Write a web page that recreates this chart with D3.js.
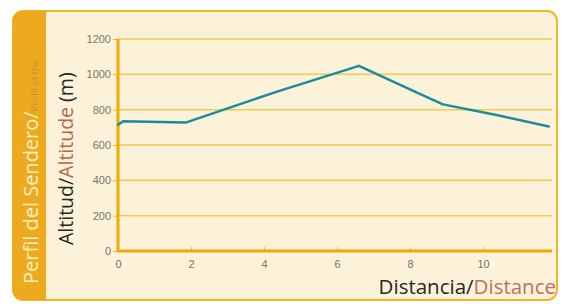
<!DOCTYPE html>
<html>
<head>
<meta charset="utf-8">
<script src="https://cdn.jsdelivr.net/npm/d3@7"></script>
<style>
  body { margin: 0; background: #ffffff; }
  svg { display: block; }
  .tick-label { font-family: "Liberation Sans Narrow", "Liberation Sans", Arial, sans-serif; font-size: 11px; fill: #7a7468; }
  .title { font-family: "Open Sans", "Noto Sans", sans-serif; }
</style>
</head>
<body>
<svg id="chart"></svg>
<script>
// trail profile: distance (km) vs altitude (m)
const distance = [0, 0.15, 1.85, 4.4, 6.6, 8.1, 8.9, 10.4, 11.8];
const altitude = [715, 735, 727, 905, 1048, 905, 830, 768, 705];
const yTicks = [0, 200, 400, 600, 800, 1000, 1200];
const xTicks = [0, 2, 4, 6, 8, 10];

const W = 565, H = 304;
const svg = d3.select("#chart").attr("width", W).attr("height", H);

// card background
svg.append("rect")
    .attr("x", 13).attr("y", 11)
    .attr("width", 544).attr("height", 289)
    .attr("rx", 10)
    .attr("fill", "#fcf2da")
    .attr("stroke", "#f3b523")
    .attr("stroke-width", 2);

// orange band on the left
svg.append("path")
    .attr("d", "M46,11 L23,11 Q13,11 13,21 L13,290 Q13,300 23,300 L46,300 Z")
    .attr("fill", "#eeaa1f");

const x = d3.scaleLinear().domain([0, 11.86]).range([118, 551]);
const y = d3.scaleLinear().domain([0, 1200]).range([251, 39]);

// gridlines
svg.append("g")
    .selectAll("line")
    .data(yTicks.filter(d => d > 0))
    .join("line")
    .attr("x1", x(0)).attr("x2", 552)
    .attr("y1", d => y(d)).attr("y2", d => y(d))
    .attr("stroke", "#f6c94e")
    .attr("stroke-width", 1.5);

// y axis
const yAxisG = svg.append("g")
    .attr("transform", `translate(${x(0)},0)`)
    .call(d3.axisLeft(y).tickValues(yTicks).tickFormat(d3.format("d")).tickSize(5).tickPadding(2));
yAxisG.select(".domain").remove();
yAxisG.selectAll(".tick line").attr("stroke", "#e8b52a").attr("stroke-width", 1);
yAxisG.selectAll(".tick text").attr("class", "tick-label");

// x axis
const xAxisG = svg.append("g")
    .attr("transform", `translate(0,${y(0)})`)
    .call(d3.axisBottom(x).tickValues(xTicks).tickFormat(d3.format("d")).tickSize(-4).tickPadding(9));
xAxisG.select(".domain").remove();
xAxisG.selectAll(".tick line").attr("stroke", "#d9c25a").attr("stroke-width", 1);
xAxisG.selectAll(".tick text").attr("class", "tick-label");

// axis lines
svg.append("line")
    .attr("x1", x(0)).attr("x2", x(0))
    .attr("y1", y(1200)).attr("y2", y(0) + 1)
    .attr("stroke", "#f2a705").attr("stroke-width", 3);
svg.append("line")
    .attr("x1", x(0) - 1).attr("x2", 552)
    .attr("y1", y(0)).attr("y2", y(0))
    .attr("stroke", "#f2a705").attr("stroke-width", 3);

// profile line
const line = d3.line()
    .x((d, i) => x(distance[i]))
    .y(d => y(d));
svg.append("path")
    .datum(altitude)
    .attr("d", line)
    .attr("fill", "none")
    .attr("stroke", "#1a8c9c")
    .attr("stroke-width", 2.5)
    .attr("stroke-linejoin", "round")
    .attr("stroke-linecap", "round");

// side title in the orange band
const side = svg.append("text")
    .attr("class", "title")
    .attr("transform", "translate(38,284) rotate(-90)")
    .style("font-size", "20px");
side.append("tspan").attr("fill", "#fdf0c4").text("Perfil del Sendero/");
side.append("tspan").attr("fill", "#d08f2c").style("font-size", "9.5px").text("Profil of the");

// y title
const yt = svg.append("text")
    .attr("class", "title")
    .attr("transform", "translate(73,245) rotate(-90)")
    .style("font-size", "19.5px");
yt.append("tspan").attr("fill", "#2a2622").text("Altitud/");
yt.append("tspan").attr("fill", "#b8654e").text("Altitude");
yt.append("tspan").attr("fill", "#2a2622").text(" (m)");

// x title
const xt = svg.append("text")
    .attr("class", "title")
    .attr("x", 556).attr("y", 294)
    .attr("text-anchor", "end")
    .style("font-size", "20.5px");
xt.append("tspan").attr("fill", "#2a2622").text("Distancia/");
xt.append("tspan").attr("fill", "#c0705a").text("Distance");
</script>
</body>
</html>
